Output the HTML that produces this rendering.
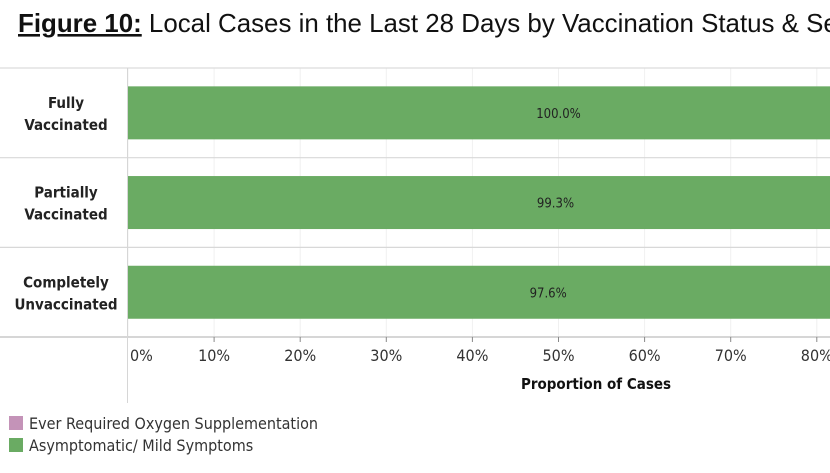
<!DOCTYPE html>
<html><head><meta charset="utf-8"><style>
body{margin:0;width:830px;height:468px;overflow:hidden;background:#fff;font-family:"Liberation Sans",sans-serif;}
svg text{font-family:"DejaVu Sans Condensed","Liberation Sans",sans-serif;}
</style></head><body>
<svg width="830" height="468">
<text x="18" y="32" font-size="25.9" fill="#111" style="font-family:'Liberation Sans',sans-serif"><tspan font-weight="bold" text-decoration="underline">Figure 10:</tspan> Local Cases in the Last 28 Days by Vaccination Status &amp; Severity</text>
<g id="plot"></g>
<g>
<rect x="9" y="416" width="14" height="14" fill="#c493b8"/>
<text x="29" y="429" font-size="16" fill="#333">Ever Required Oxygen Supplementation</text>
<rect x="9" y="438" width="14" height="14" fill="#6aab63"/>
<text x="29" y="451" font-size="16" fill="#333">Asymptomatic/ Mild Symptoms</text>
</g>
</svg>
<script>
const categories=[["Fully","Vaccinated"],["Partially","Vaccinated"],["Completely","Unvaccinated"]];
const mildValues=[100.0,99.3,97.6];
const oxygenValues=[0.0,0.7,2.4];
const tickValues=[0,10,20,30,40,50,60,70,80,90,100];
const NS="http://www.w3.org/2000/svg";
const g=document.getElementById('plot');
const x0=128,pxPer=8.61,plotTop=68,rowH=89.7;
const xs=v=>x0+v*pxPer;
function mk(t,a){const e=document.createElementNS(NS,t);for(const k in a)e.setAttribute(k,a[k]);g.appendChild(e);return e;}
tickValues.forEach(v=>{const l=mk('line',{x1:xs(v),x2:xs(v),y1:plotTop,y2:337,stroke:'#f0f0f0','stroke-width':1});

});
[plotTop,plotTop+rowH,plotTop+2*rowH].forEach((y,i)=>{const l=mk('line',{x1:0,x2:830,y1:y,y2:y,stroke:i==0?'#dcdcdc':'#d8d8d8','stroke-width':1.2});

});
const ax=mk('line',{x1:0,x2:830,y1:337,y2:337,stroke:'#bdbdbd','stroke-width':1.3});


const vl=mk('line',{x1:127.5,x2:127.5,y1:plotTop,y2:403,stroke:'#d6d6d6','stroke-width':1});


categories.forEach((c,i)=>{
 const cy=plotTop+rowH*i+rowH/2;
 const t=mk('text',{x:66,y:cy-5,'text-anchor':'middle','font-size':15,'font-weight':'bold',fill:'#222'});
 
 
 t.innerHTML='<tspan x="66">'+c[0]+'</tspan><tspan x="66" dy="22">'+c[1]+'</tspan>';
 const b=mk('rect',{x:xs(0),y:cy-26.5,width:xs(mildValues[i])-xs(0),height:53,fill:'#6aab63'});
 
 
 const p=mk('rect',{x:xs(mildValues[i]),y:cy-26.5,width:xs(mildValues[i]+oxygenValues[i])-xs(mildValues[i]),height:53,fill:'#c493b8'});
 
 
 const l=mk('text',{x:xs(mildValues[i]/2),y:cy+5,'text-anchor':'middle','font-size':13,fill:'#222'});
 
 
 l.textContent=mildValues[i].toFixed(1)+'%';
});
tickValues.forEach(v=>{
 if(v>0){const tk=mk('line',{x1:xs(v),x2:xs(v),y1:337,y2:342,stroke:'#888','stroke-width':1});
 
 }
 const t=mk('text',{x:v==0?xs(v)+2:xs(v),y:361,'text-anchor':v==0?'start':'middle','font-size':16,fill:'#333'});
 
 
 t.textContent=v+'%';
});
const at=mk('text',{x:596,y:389,'text-anchor':'middle','font-size':15,'font-weight':'bold',fill:'#111'});


at.textContent='Proportion of Cases';
</script>
</body></html>
